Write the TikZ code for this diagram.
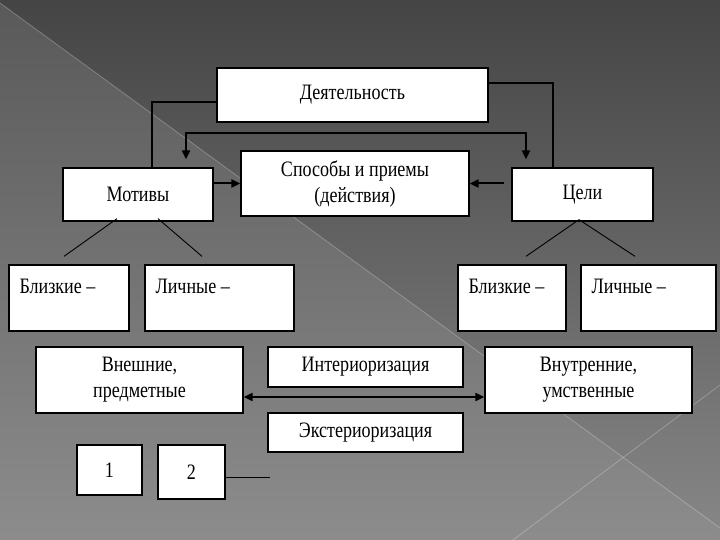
\documentclass[tikz,border=0pt]{standalone}
\usepackage{fontspec}
\setmainfont{Liberation Serif}
\newfontfamily\boxfont[FakeStretch=0.82]{Liberation Serif}
\usepackage{tikz}
\usetikzlibrary{arrows.meta,positioning,calc}

\begin{document}
\begin{tikzpicture}[
    x=1pt, y=-1pt,
    % --- STYLES ---
    block/.style={
        rectangle, draw=black, fill=white,
        line width=1.3pt, inner sep=2pt,
        align=center, font=\boxfont\fontsize{22}{26}\selectfont
    },
    note/.style={
        anchor=north west, inner sep=0pt,
        xshift=11pt, yshift=-15pt,
        font=\boxfont\fontsize{22}{26}\selectfont
    },
    control/.style={line width=2pt, -{Triangle[length=9pt,width=8pt]}},
    twoway/.style={line width=2pt, {Triangle[length=9pt,width=8pt]}-{Triangle[length=9pt,width=8pt]}},
    link/.style={line width=2pt},
    branch/.style={line width=0.9pt}
]

% ===== 0. BACKGROUND =====
\useasboundingbox (0,0) rectangle (720,540);
\shade[top color=black!73, bottom color=black!47] (0,0) rectangle (720,540);
\shade[top color=black!65, bottom color=black!45] (0,3) -- (720,528) -- (720,540) -- (0,540) -- cycle;
\draw[white, opacity=0.25, line width=0.8pt] (0,3) -- (720,528);
\draw[white, opacity=0.25, line width=0.8pt] (513,540) -- (720,385);

% ===== 1. TOP ROW =====
\node[block, minimum width=271pt, minimum height=54pt] (act) at (352.5,95) {Деятельность};

\node[block, minimum width=150pt, minimum height=53pt] (mot) at (138,194.5) {Мотивы};
\node[block, minimum width=228pt, minimum height=65pt] (ways) at (355,183.5) {Способы и приемы\\(действия)};
\node[block, minimum width=141pt, minimum height=53pt] (goal) at (582.5,194.5) {Цели};

% ===== 2. SUB-TYPES =====
\node[block, minimum width=120pt, minimum height=66pt,
      label={[note]north west:Близкие –}] (nearL) at (69,298) {};
\node[block, minimum width=149pt, minimum height=66pt,
      label={[note]north west:Личные –}] (persL) at (219.5,298) {};
\node[block, minimum width=108pt, minimum height=66pt,
      label={[note]north west:Близкие –}] (nearR) at (512,298) {};
\node[block, minimum width=135pt, minimum height=66pt,
      label={[note]north west:Личные –}] (persR) at (648.5,298) {};

% ===== 3. INTERIORISATION =====
\node[block, minimum width=207pt, minimum height=66pt] (outer) at (139.5,380) {Внешние,\\предметные};
\node[block, minimum width=195pt, minimum height=40pt] (inter) at (365.5,367) {Интериоризация};
\node[block, minimum width=207pt, minimum height=66pt] (inner) at (588.5,380) {Внутренние,\\умственные};
\node[block, minimum width=195pt, minimum height=39pt] (exter) at (365.5,432.5) {Экстериоризация};

\node[block, minimum width=65pt, minimum height=50pt] (one) at (109.5,470) {1};
\node[block, minimum width=67pt, minimum height=54pt] (two) at (191.5,472) {2};
\coordinate (tail) at (270,477);

% ===== 4. CONNECTIONS =====
\draw[link] ([yshift=-7pt]act.west) -| ([xshift=14pt]mot.north);
\draw[link] ([yshift=12pt]act.east) -| ([xshift=-29.5pt]goal.north);

\draw[twoway] ([xshift=48pt,yshift=8pt]mot.north) -- ++(0,-26) -| ([xshift=-56.5pt,yshift=8pt]goal.north);

\draw[control] (mot.east |- ways.west) -- (ways.west);
\draw[control] ([xshift=-7pt]goal.west |- ways.east) -- (ways.east);

% Branches
\draw[branch] ([xshift=-21pt,yshift=3pt]mot.south) -- ([xshift=-5pt,yshift=8pt]nearL.north);
\draw[branch] ([xshift=20pt,yshift=3pt]mot.south) -- ([xshift=-17.5pt,yshift=8pt]persL.north);
\draw[branch] ([xshift=-3.5pt,yshift=2pt]goal.south) -- ([xshift=14pt,yshift=8pt]nearR.north);
\draw[branch] ([xshift=-3.5pt,yshift=2pt]goal.south) -- ([xshift=-13.5pt,yshift=8pt]persR.north);

% Interiorisation / exteriorisation
\draw[twoway] ([yshift=-17pt]outer.east) -- ([yshift=-17pt]inner.west);

\draw[branch] ([yshift=-5pt]two.east) -- (tail);

\end{tikzpicture}
\end{document}
